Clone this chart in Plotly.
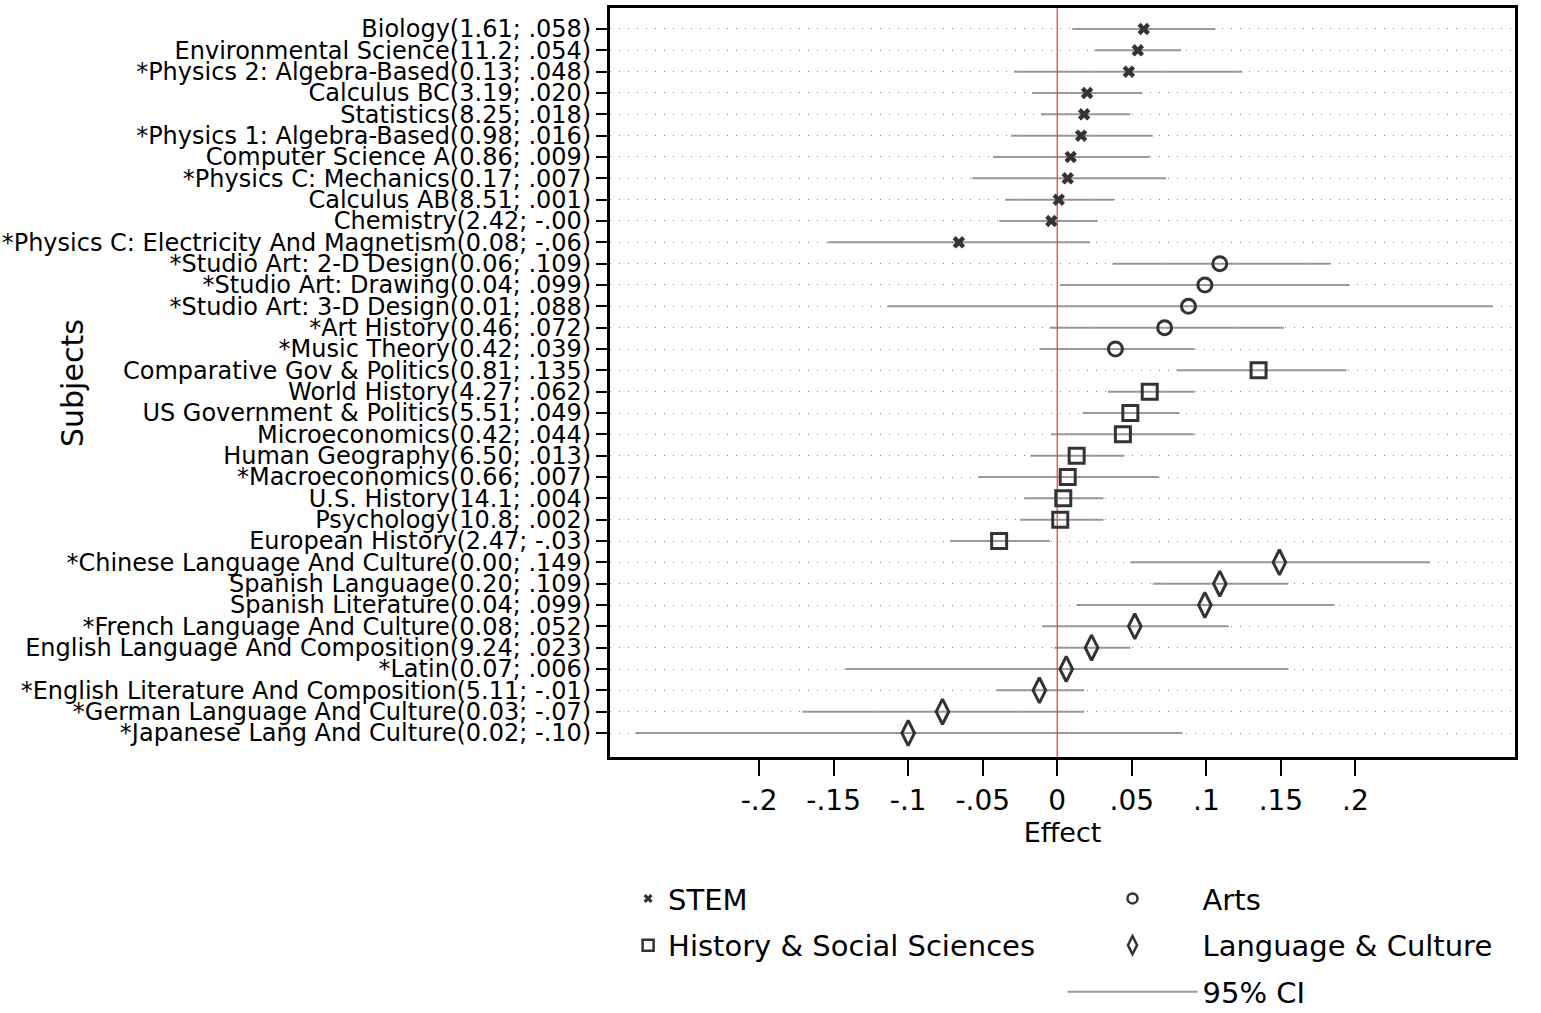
import plotly.graph_objects as go

subjects = [
    "Biology(1.61; .058)",
    "Environmental Science(11.2; .054)",
    "*Physics 2: Algebra-Based(0.13; .048)",
    "Calculus BC(3.19; .020)",
    "Statistics(8.25; .018)",
    "*Physics 1: Algebra-Based(0.98; .016)",
    "Computer Science A(0.86; .009)",
    "*Physics C: Mechanics(0.17; .007)",
    "Calculus AB(8.51; .001)",
    "Chemistry(2.42; -.00)",
    "*Physics C: Electricity And Magnetism(0.08; -.06)",
    "*Studio Art: 2-D Design(0.06; .109)",
    "*Studio Art: Drawing(0.04; .099)",
    "*Studio Art: 3-D Design(0.01; .088)",
    "*Art History(0.46; .072)",
    "*Music Theory(0.42; .039)",
    "Comparative Gov & Politics(0.81; .135)",
    "World History(4.27; .062)",
    "US Government & Politics(5.51; .049)",
    "Microeconomics(0.42; .044)",
    "Human Geography(6.50; .013)",
    "*Macroeconomics(0.66; .007)",
    "U.S. History(14.1; .004)",
    "Psychology(10.8; .002)",
    "European History(2.47; -.03)",
    "*Chinese Language And Culture(0.00; .149)",
    "Spanish Language(0.20; .109)",
    "Spanish Literature(0.04; .099)",
    "*French Language And Culture(0.08; .052)",
    "English Language And Composition(9.24; .023)",
    "*Latin(0.07; .006)",
    "*English Literature And Composition(5.11; -.01)",
    "*German Language And Culture(0.03; -.07)",
    "*Japanese Lang And Culture(0.02; -.10)",
]

category = (["STEM"] * 11 + ["Arts"] * 5 + ["History & Social Sciences"] * 9
            + ["Language & Culture"] * 9)

effect = [0.058, 0.054, 0.048, 0.020, 0.018, 0.016, 0.009, 0.007, 0.001, -0.004,
          -0.066, 0.109, 0.099, 0.088, 0.072, 0.039, 0.135, 0.062, 0.049, 0.044,
          0.013, 0.007, 0.004, 0.002, -0.039, 0.149, 0.109, 0.099, 0.052, 0.023,
          0.006, -0.012, -0.077, -0.100]

ci_low = [0.010, 0.025, -0.029, -0.017, -0.011, -0.031, -0.043, -0.057, -0.035, -0.039,
          -0.154, 0.037, 0.002, -0.114, -0.005, -0.012, 0.080, 0.034, 0.017, -0.004,
          -0.018, -0.053, -0.022, -0.025, -0.072, 0.049, 0.064, 0.013, -0.010, -0.002,
          -0.142, -0.041, -0.171, -0.283]

ci_high = [0.106, 0.083, 0.124, 0.057, 0.049, 0.064, 0.062, 0.073, 0.038, 0.027,
           0.022, 0.183, 0.196, 0.292, 0.152, 0.092, 0.194, 0.092, 0.082, 0.092,
           0.045, 0.068, 0.031, 0.031, -0.005, 0.250, 0.155, 0.186, 0.115, 0.049,
           0.155, 0.018, 0.018, 0.084]

x_ticks = [-0.2, -0.15, -0.1, -0.05, 0, 0.05, 0.1, 0.15, 0.2]
x_tick_labels = ["-.2", "-.15", "-.1", "-.05", "0", ".05", ".1", ".15", ".2"]

rows = list(range(1, len(subjects) + 1))

FONT = "DejaVu Sans"
DARK = "#333333"

styles = {
    "STEM": dict(symbol="x", size=11, lsize=8, line=0),
    "Arts": dict(symbol="circle-open", size=14, lsize=10, line=3),
    "History & Social Sciences": dict(symbol="square-open", size=15, lsize=11, line=3),
    "Language & Culture": dict(symbol="diamond-tall-open", size=18, lsize=13, line=3),
}

fig = go.Figure()

# CI segments
cx, cy = [], []
for lo, hi, r in zip(ci_low, ci_high, rows):
    cx += [lo, hi, None]
    cy += [r, r, None]
fig.add_trace(go.Scatter(
    x=cx, y=cy, mode="lines", name="95% CI",
    line=dict(color="rgba(120,120,120,0.75)", width=2),
    legend="legend2", legendgroup="ci", legendrank=3, hoverinfo="skip",
))

legend_map = {
    "STEM": ("legend", 1),
    "History & Social Sciences": ("legend", 2),
    "Arts": ("legend2", 1),
    "Language & Culture": ("legend2", 2),
}

for cat in ["STEM", "Arts", "History & Social Sciences", "Language & Culture"]:
    xs = [e for e, c in zip(effect, category) if c == cat]
    ys = [r for r, c in zip(rows, category) if c == cat]
    st = styles[cat]
    lg, rank = legend_map[cat]
    fig.add_trace(go.Scatter(
        x=xs, y=ys, mode="markers", name=cat, showlegend=False,
        marker=dict(symbol=st["symbol"], size=st["size"], color=DARK,
                    line=dict(color=DARK, width=st["line"])),
    ))
    # legend entry with smaller symbol
    fig.add_trace(go.Scatter(
        x=[None], y=[None], mode="markers", name=cat,
        legend=lg, legendgroup=cat, legendrank=rank,
        marker=dict(symbol=st["symbol"], size=st["lsize"], color=DARK,
                    line=dict(color=DARK, width=2.5 if st["line"] else 0)),
    ))

fig.update_layout(
    width=1541, height=1013,
    margin=dict(l=610, r=26, t=8, b=256, autoexpand=False),
    plot_bgcolor="white", paper_bgcolor="white",
    font=dict(family=FONT, color="black"),
    legend=dict(x=0.02, xanchor="left", y=-0.155, yanchor="top",
                font=dict(size=29, family=FONT), traceorder="grouped",
                tracegroupgap=6, itemwidth=30, bgcolor="rgba(0,0,0,0)"),
    legend2=dict(x=0.5, xanchor="left", y=-0.155, yanchor="top",
                 font=dict(size=29, family=FONT), traceorder="grouped",
                 tracegroupgap=6, itemwidth=130, bgcolor="rgba(0,0,0,0)"),
    xaxis=dict(
        range=[-0.300, 0.307], tickvals=x_ticks, ticktext=x_tick_labels,
        showgrid=False, zeroline=False,
        showline=True, linecolor="black", linewidth=3, mirror=True,
        ticks="outside", ticklen=16, tickwidth=1.5, tickcolor="black",
        ticklabelstandoff=0,
        tickfont=dict(size=28, family=FONT),
        title=dict(text="Effect", font=dict(size=27, family=FONT), standoff=0),
    ),
    yaxis=dict(
        range=[35.125, 0.016], tickvals=rows, ticktext=subjects,
        showgrid=True, gridcolor="#888888", gridwidth=1, griddash="1px,8px",
        zeroline=False,
        showline=True, linecolor="black", linewidth=3, mirror=True,
        ticks="outside", ticklen=11, tickwidth=2, tickcolor="black",
        tickfont=dict(size=24, family=FONT),
    ),
    shapes=[dict(
        type="line", xref="x", yref="paper", x0=0, x1=0, y0=0, y1=1,
        line=dict(color="#E8605A", width=1.5), layer="between",
    )],
    annotations=[dict(
        text="Subjects", textangle=-90, xref="paper", yref="paper",
        x=(72 - 610) / 905, y=(757 - 383) / 749, xanchor="center", yanchor="middle",
        showarrow=False, font=dict(size=30, family=FONT, color="black"),
    )],
)

fig.write_html("out.html")
